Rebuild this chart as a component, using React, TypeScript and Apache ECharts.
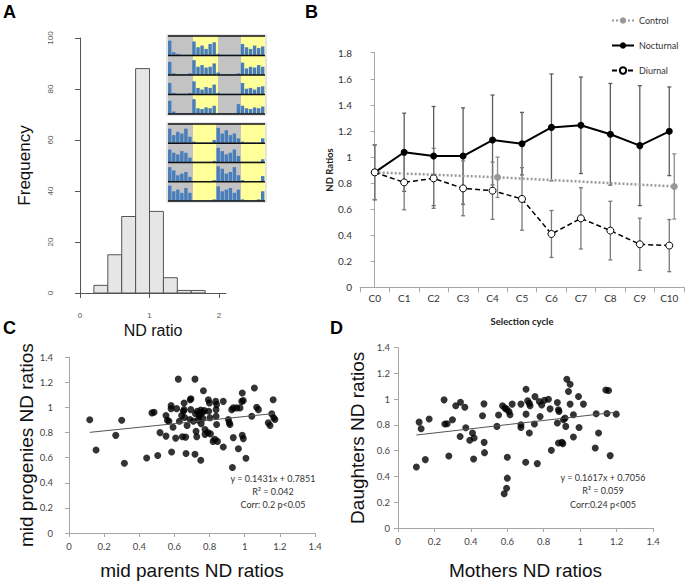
import React, { useEffect, useRef } from "react";
import * as echarts from "echarts";

// ---------- Panel A: histogram ----------
const histBinStart = [0.2, 0.4, 0.6, 0.8, 1.0, 1.2, 1.4, 1.6];
const histBinWidth = 0.2;
const histFrequency = [3, 15, 30, 88, 32, 6, 1, 1];

// inset actograms (relative activity per bin, 24 bins per row)
const insetTopActivity = [
  [0.9, 0.2, 0.1, 0.05, 0.05, 0.05, 0.85, 0.5, 0.6, 0.4, 0.7, 0.8, 0.1, 0.05, 0.05, 0.05, 0.05, 0.05, 0.7, 0.5, 0.4, 0.6, 0.45, 0.55],
  [0.8, 0.1, 0.05, 0.05, 0.05, 0.1, 0.9, 0.5, 0.6, 0.45, 0.5, 0.7, 0.15, 0.05, 0.05, 0.05, 0.05, 0.1, 0.75, 0.4, 0.5, 0.45, 0.6, 0.5],
  [0.7, 0.1, 0.05, 0.05, 0.05, 0.1, 0.8, 0.4, 0.3, 0.45, 0.4, 0.6, 0.1, 0.05, 0.05, 0.05, 0.05, 0.05, 0.7, 0.35, 0.4, 0.3, 0.45, 0.5],
  [0.8, 0.15, 0.05, 0.05, 0.05, 0.05, 0.9, 0.35, 0.3, 0.4, 0.35, 0.5, 0.05, 0.05, 0.05, 0.05, 0.05, 0.6, 0.5, 0.35, 0.3, 0.4, 0.35, 0.45],
];
const insetBottomActivity = [
  [0.9, 0.5, 0.7, 0.6, 0.9, 0.4, 0.1, 0.05, 0.05, 0.05, 0.05, 0.2, 0.95, 0.6, 0.8, 0.5, 0.6, 0.3, 0.1, 0.05, 0.05, 0.05, 0.05, 0.3],
  [0.8, 0.6, 0.5, 0.7, 0.6, 0.3, 0.05, 0.05, 0.05, 0.05, 0.05, 0.1, 0.9, 0.7, 0.5, 0.6, 0.8, 0.4, 0.05, 0.05, 0.05, 0.05, 0.05, 0.2],
  [0.9, 0.7, 0.4, 0.5, 0.6, 0.3, 0.05, 0.05, 0.05, 0.05, 0.05, 0.1, 0.95, 0.8, 0.5, 0.6, 0.9, 0.4, 0.1, 0.05, 0.05, 0.05, 0.05, 0.35],
  [0.95, 0.6, 0.7, 0.5, 0.8, 0.5, 0.05, 0.05, 0.05, 0.05, 0.05, 0.1, 0.9, 0.6, 0.7, 0.8, 0.5, 0.7, 0.1, 0.05, 0.05, 0.05, 0.1, 0.6],
];
const insetPhases = ["dark", "light", "dark", "light"];

// ---------- Panel B: selection cycles ----------
const cycles = ["C0", "C1", "C2", "C3", "C4", "C5", "C6", "C7", "C8", "C9", "C10"];
const nocturnalMean = [0.882, 1.036, 1.007, 1.007, 1.13, 1.102, 1.227, 1.243, 1.174, 1.087, 1.197];
const nocturnalErr = [0.21, 0.3, 0.38, 0.37, 0.345, 0.24, 0.41, 0.37, 0.39, 0.46, 0.34];
const diurnalMean = [0.882, 0.805, 0.836, 0.759, 0.741, 0.678, 0.409, 0.529, 0.435, 0.33, 0.32];
const diurnalErr = [0.21, 0.21, 0.23, 0.21, 0.22, 0.24, 0.18, 0.235, 0.225, 0.2, 0.2];
const controlCycle = [0, 4.17, 10.17];
const controlMean = [0.882, 0.844, 0.774];
const controlErr = [0, 0.155, 0.25];

// ---------- Panel C: mid parents vs mid progenies ----------
const scatterC = [
  [0.118, 0.902], [0.154, 0.661], [0.266, 0.778], [0.3, 0.899], [0.315, 0.556],
  [0.442, 0.598], [0.472, 0.957], [0.484, 0.962], [0.505, 0.617], [0.518, 0.8],
  [0.552, 0.936], [0.552, 0.772], [0.56, 0.899], [0.569, 0.891], [0.581, 1.015],
  [0.581, 0.991], [0.584, 0.646], [0.592, 0.843], [0.607, 0.756], [0.613, 0.991],
  [0.622, 1.226], [0.628, 0.891], [0.641, 0.936], [0.645, 0.767], [0.651, 0.97],
  [0.655, 0.983], [0.655, 1.036], [0.658, 0.92], [0.664, 0.764], [0.666, 0.633],
  [0.672, 0.857], [0.689, 0.904], [0.69, 1.062], [0.694, 1.07], [0.693, 0.983],
  [0.717, 1.226], [0.708, 0.891], [0.723, 0.81], [0.727, 0.767], [0.717, 0.627],
  [0.75, 0.58], [0.765, 1.134], [0.72, 0.95], [0.73, 0.97], [0.74, 0.93],
  [0.75, 0.98], [0.76, 0.96], [0.735, 0.9], [0.745, 0.945], [0.762, 0.912],
  [0.77, 0.975], [0.752, 0.87], [0.793, 1.062], [0.799, 1.036], [0.795, 0.97],
  [0.802, 0.918], [0.774, 0.825], [0.774, 0.786], [0.79, 0.8], [0.805, 0.79],
  [0.82, 0.73], [0.83, 0.746], [0.845, 0.73], [0.835, 1.049], [0.84, 1.023],
  [0.837, 0.983], [0.837, 0.93], [0.84, 0.865], [0.878, 1.049], [0.878, 0.685],
  [0.907, 0.904], [0.912, 0.878], [0.916, 0.865], [0.926, 0.983], [0.935, 0.997],
  [0.93, 0.522], [0.935, 0.76], [0.954, 0.997], [0.973, 0.997], [0.964, 0.672],
  [0.983, 1.049], [0.992, 1.055], [0.986, 1.115], [0.986, 0.778], [0.992, 0.752],
  [1.007, 0.596], [1.055, 1.155], [1.04, 0.93], [1.068, 1.002], [1.078, 0.983],
  [1.134, 0.878], [1.144, 0.857], [1.154, 0.949], [1.165, 0.918], [1.172, 0.904],
  [1.162, 1.062],
];
const slopeC = 0.1431;
const interceptC = 0.7851;
const annotationC = ["y = 0.1431x + 0.7851", "R\u00b2 = 0.042", "Corr: 0.2 p<0.05"];

// ---------- Panel D: mothers vs daughters ----------
const scatterD = [
  [0.101, 0.474], [0.116, 0.822], [0.127, 0.771], [0.15, 0.531], [0.171, 0.846],
  [0.253, 0.995], [0.257, 0.807], [0.27, 0.81], [0.279, 0.559], [0.299, 0.84],
  [0.317, 0.949], [0.343, 0.977], [0.341, 0.711], [0.367, 0.938], [0.372, 0.779],
  [0.394, 0.681], [0.409, 0.737], [0.418, 0.699], [0.415, 0.536], [0.464, 0.871],
  [0.472, 0.964], [0.473, 0.665], [0.475, 0.585], [0.543, 0.789], [0.552, 0.877],
  [0.574, 0.949], [0.587, 0.931], [0.596, 0.923], [0.583, 0.266], [0.596, 0.309],
  [0.6, 0.387], [0.6, 0.549], [0.609, 0.905], [0.615, 0.879], [0.627, 0.962],
  [0.675, 0.962], [0.675, 0.802], [0.675, 0.781], [0.703, 1.078], [0.703, 0.884],
  [0.701, 0.51], [0.712, 0.987], [0.721, 0.969], [0.725, 0.949], [0.721, 0.737],
  [0.749, 0.807], [0.752, 1.02], [0.765, 0.5], [0.776, 0.982], [0.789, 0.956],
  [0.78, 0.866], [0.804, 0.992], [0.826, 1.0], [0.835, 0.925], [0.842, 0.603],
  [0.875, 0.975], [0.875, 0.815], [0.881, 0.918], [0.884, 0.905], [0.881, 0.66],
  [0.9, 0.665], [0.905, 0.655], [0.908, 0.84], [0.917, 0.853], [0.921, 0.789],
  [0.927, 1.155], [0.936, 1.06], [0.945, 1.116], [0.945, 0.962], [0.963, 0.879],
  [0.963, 0.706], [0.991, 1.021], [0.994, 0.781], [1.018, 0.962], [1.088, 0.887],
  [1.083, 0.621], [1.101, 0.737], [1.141, 1.072], [1.156, 1.067], [1.147, 0.889],
  [1.165, 0.562], [1.198, 0.884],
];
const slopeD = 0.1617;
const interceptD = 0.7056;
const annotationD = ["y = 0.1617x + 0.7056", "R\u00b2 = 0.059", "Corr:0.24 p<005"];

const ARIAL = "'Liberation Sans', Arial, sans-serif";
const EXCEL = "Lato, 'Liberation Sans', sans-serif";

function trend(points: number[][], slope: number, intercept: number) {
  const xs = points.map((p) => p[0]);
  const lo = Math.min(...xs);
  const hi = Math.max(...xs);
  return [
    [lo, slope * lo + intercept],
    [hi, slope * hi + intercept],
  ];
}

function errRender(color: string) {
  return (_params: any, api: any) => {
    const x = api.value(0);
    const y = api.value(1);
    const e = api.value(2);
    if (!e) return null;
    const top = api.coord([x, y + e]);
    const bot = api.coord([x, y - e]);
    const cap = 2;
    const style = { stroke: color, lineWidth: 1.3 };
    return {
      type: "group",
      children: [
        { type: "line", shape: { x1: top[0], y1: top[1], x2: bot[0], y2: bot[1] }, style },
        { type: "line", shape: { x1: top[0] - cap, y1: top[1], x2: top[0] + cap, y2: top[1] }, style },
        { type: "line", shape: { x1: bot[0] - cap, y1: bot[1], x2: bot[0] + cap, y2: bot[1] }, style },
      ],
    };
  };
}

function buildInset(x0: number, y0: number, w: number, rowH: number, edges: number[], activity: number[][]) {
  const children: any[] = [];
  const rows = activity.length;
  children.push({
    type: "rect",
    shape: { x: x0 - 1, y: y0 - 1, width: w + 2, height: rows * rowH + 2 },
    style: { fill: "#fff", stroke: "#c8c8c8", lineWidth: 1 },
  });
  activity.forEach((row, r) => {
    const top = y0 + r * rowH;
    for (let c = 0; c < insetPhases.length; c++) {
      children.push({
        type: "rect",
        shape: { x: x0 + edges[c] * w, y: top, width: (edges[c + 1] - edges[c]) * w, height: rowH },
        style: { fill: insetPhases[c] === "dark" ? "#c3c3c3" : "#ffff99" },
      });
    }
    const binW = w / row.length;
    row.forEach((v, b) => {
      const h = v * (rowH - 3);
      children.push({
        type: "rect",
        shape: { x: x0 + b * binW, y: top + rowH - h, width: binW * 0.85, height: h },
        style: { fill: "#4a7ebb" },
      });
    });
  });
  for (let r = 0; r <= rows; r++) {
    children.push({
      type: "line",
      shape: { x1: x0, y1: y0 + r * rowH, x2: x0 + w, y2: y0 + r * rowH },
      style: { stroke: "#111", lineWidth: 1.5 },
    });
  }
  return { type: "group", silent: true, children };
}

const excelAxisLine = { show: true, lineStyle: { color: "#a6a6a6", width: 1 } };
const excelTick = { show: true, length: 4, lineStyle: { color: "#a6a6a6" } };

export default function App() {
  const ref = useRef<HTMLDivElement>(null);
  useEffect(() => {
    const chart = echarts.init(ref.current!, null, { renderer: "svg" });
    const option: any = {
      animation: false,
      backgroundColor: "#fff",
      legend: {
        data: ["Control", "Nocturnal", "Diurnal"],
        orient: "vertical",
        left: 606,
        top: 11,
        itemWidth: 22,
        itemHeight: 8,
        itemGap: 16,
        textStyle: { fontSize: 9, color: "#333", fontFamily: EXCEL },
      },
      grid: [
        { left: 80, top: 38, width: 146, height: 255 },
        { left: 360, top: 52.7, width: 324, height: 234.6 },
        { left: 69, top: 357.3, width: 246, height: 177 },
        { left: 398, top: 347.7, width: 255, height: 181 },
      ],
      xAxis: [
        {
          gridIndex: 0,
          type: "value",
          min: 0,
          max: 2.1,
          interval: 1,
          offset: 11,
          splitLine: { show: false },
          axisLine: { show: true, lineStyle: { color: "#555" } },
          axisTick: { show: true, length: 5, lineStyle: { color: "#555" } },
          axisLabel: { fontSize: 8, color: "#555", margin: 7, fontFamily: ARIAL, showMaxLabel: false },
          name: "ND ratio",
          nameLocation: "middle",
          nameGap: 18,
          nameTextStyle: { fontSize: 16, color: "#111", fontFamily: ARIAL },
        },
        {
          gridIndex: 1,
          type: "category",
          data: cycles,
          boundaryGap: true,
          axisLine: excelAxisLine,
          axisTick: { show: true, length: 5, alignWithLabel: false, lineStyle: { color: "#a6a6a6" } },
          axisLabel: { fontSize: 10, color: "#333", margin: 6, interval: 0, fontFamily: EXCEL },
          name: "Selection cycle",
          nameLocation: "middle",
          nameGap: 29,
          nameTextStyle: { fontSize: 9.5, fontWeight: "bold", color: "#222", fontFamily: EXCEL },
        },
        { gridIndex: 1, type: "value", min: -0.5, max: 10.5, show: false },
        {
          gridIndex: 2,
          type: "value",
          min: 0,
          max: 1.4,
          interval: 0.2,
          splitLine: { show: false },
          axisLine: excelAxisLine,
          axisTick: excelTick,
          axisLabel: { fontSize: 9.5, color: "#444", margin: 8, fontFamily: EXCEL },
          name: "mid parents ND ratios",
          nameLocation: "middle",
          nameGap: 28,
          nameTextStyle: { fontSize: 19, color: "#111", fontFamily: ARIAL },
        },
        {
          gridIndex: 3,
          type: "value",
          min: 0,
          max: 1.4,
          interval: 0.2,
          splitLine: { show: false },
          axisLine: excelAxisLine,
          axisTick: excelTick,
          axisLabel: { fontSize: 9.5, color: "#444", margin: 8, fontFamily: EXCEL },
          name: "Mothers ND ratios",
          nameLocation: "middle",
          nameGap: 33,
          nameTextStyle: { fontSize: 19, color: "#111", fontFamily: ARIAL },
        },
      ],
      yAxis: [
        {
          gridIndex: 0,
          type: "value",
          min: 0,
          max: 100,
          interval: 20,
          offset: 12,
          splitLine: { show: false },
          axisLine: { show: true, lineStyle: { color: "#555" } },
          axisTick: { show: true, length: 5, lineStyle: { color: "#555" } },
          axisLabel: { fontSize: 8, color: "#555", margin: 14, rotate: 90, fontFamily: ARIAL },
          name: "Frequency",
          nameLocation: "middle",
          nameGap: 35,
          nameTextStyle: { fontSize: 17, color: "#111", fontFamily: ARIAL },
        },
        {
          gridIndex: 1,
          type: "value",
          min: 0,
          max: 1.8,
          interval: 0.2,
          splitLine: { show: false },
          axisLine: excelAxisLine,
          axisTick: excelTick,
          axisLabel: { fontSize: 10, color: "#333", margin: 8, fontFamily: EXCEL },
          name: "ND Ratios",
          nameLocation: "middle",
          nameGap: 26,
          nameTextStyle: { fontSize: 9.5, fontWeight: "bold", color: "#222", fontFamily: EXCEL },
        },
        {
          gridIndex: 2,
          type: "value",
          min: 0,
          max: 1.4,
          interval: 0.2,
          splitLine: { show: false },
          axisLine: excelAxisLine,
          axisTick: excelTick,
          axisLabel: { fontSize: 9.5, color: "#444", margin: 16, fontFamily: EXCEL },
          name: "mid progenies ND ratios",
          nameLocation: "middle",
          nameGap: 23,
          nameTextStyle: { fontSize: 19, color: "#111", fontFamily: ARIAL },
        },
        {
          gridIndex: 3,
          type: "value",
          min: 0,
          max: 1.4,
          interval: 0.2,
          splitLine: { show: false },
          axisLine: excelAxisLine,
          axisTick: excelTick,
          axisLabel: { fontSize: 9.5, color: "#444", margin: 8, fontFamily: EXCEL },
          name: "Daughters ND ratios",
          nameLocation: "middle",
          nameGap: 31,
          nameTextStyle: { fontSize: 19, color: "#111", fontFamily: ARIAL },
        },
      ],
      series: [
        {
          type: "custom",
          xAxisIndex: 0,
          yAxisIndex: 0,
          encode: { x: 0, y: 1 },
          data: histBinStart.map((s, i) => [s, histFrequency[i]]),
          renderItem: (_p: any, api: any) => {
            const x0 = api.value(0);
            const h = api.value(1);
            const a = api.coord([x0, h]);
            const b = api.coord([x0 + histBinWidth, 0]);
            return {
              type: "rect",
              shape: { x: a[0], y: a[1], width: b[0] - a[0], height: b[1] - a[1] },
              style: { fill: "#e6e6e6", stroke: "#555", lineWidth: 1 },
            };
          },
        },
        {
          type: "custom",
          xAxisIndex: 2,
          yAxisIndex: 1,
          encode: { x: 0, y: 1 },
          z: 1,
          data: nocturnalMean.map((m, i) => [i, m, nocturnalErr[i]]),
          renderItem: errRender("#5c5c5c"),
        },
        {
          type: "custom",
          xAxisIndex: 2,
          yAxisIndex: 1,
          encode: { x: 0, y: 1 },
          z: 1,
          data: diurnalMean.map((m, i) => [i, m, diurnalErr[i]]),
          renderItem: errRender("#7a7a7a"),
        },
        {
          type: "custom",
          xAxisIndex: 2,
          yAxisIndex: 1,
          encode: { x: 0, y: 1 },
          z: 1,
          data: controlMean.map((m, i) => [controlCycle[i], m, controlErr[i]]),
          renderItem: errRender("#8c8c8c"),
        },
        {
          type: "line",
          name: "Control",
          xAxisIndex: 2,
          yAxisIndex: 1,
          z: 2,
          data: controlMean.map((m, i) => [controlCycle[i], m]),
          symbol: "circle",
          symbolSize: 7,
          itemStyle: { color: "#999" },
          lineStyle: { color: "#999", width: 2.5, type: [2, 2] },
        },
        {
          type: "line",
          name: "Nocturnal",
          xAxisIndex: 2,
          yAxisIndex: 1,
          z: 3,
          data: nocturnalMean.map((m, i) => [i, m]),
          symbol: "circle",
          symbolSize: 7,
          itemStyle: { color: "#000" },
          lineStyle: { color: "#000", width: 2 },
        },
        {
          type: "line",
          name: "Diurnal",
          xAxisIndex: 2,
          yAxisIndex: 1,
          z: 4,
          data: diurnalMean.map((m, i) => [i, m]),
          symbol: "circle",
          symbolSize: 7,
          itemStyle: { color: "#fff", borderColor: "#000", borderWidth: 1 },
          lineStyle: { color: "#000", width: 1.5, type: [5, 3] },
        },
        {
          type: "scatter",
          xAxisIndex: 3,
          yAxisIndex: 2,
          data: scatterC,
          symbolSize: 7,
          itemStyle: { color: "#000" },
        },
        {
          type: "line",
          xAxisIndex: 3,
          yAxisIndex: 2,
          data: trend(scatterC, slopeC, interceptC),
          showSymbol: false,
          symbol: "none",
          lineStyle: { color: "#555", width: 1 },
        },
        {
          type: "scatter",
          xAxisIndex: 4,
          yAxisIndex: 3,
          data: scatterD,
          symbolSize: 7,
          itemStyle: { color: "#000" },
        },
        {
          type: "line",
          xAxisIndex: 4,
          yAxisIndex: 3,
          data: trend(scatterD, slopeD, interceptD),
          showSymbol: false,
          symbol: "none",
          lineStyle: { color: "#555", width: 1 },
        },
      ],
      graphic: [
        buildInset(168, 36, 97, 19.5, [0, 25 / 97, 50 / 97, 73 / 97, 1], insetTopActivity),
        buildInset(168, 124, 97, 19.25, [0, 25 / 97, 48 / 97, 73 / 97, 1], insetBottomActivity),
        { type: "text", left: 3, top: 3, style: { text: "A", fontSize: 18, fontWeight: "bold", fontFamily: ARIAL, fill: "#000" } },
        { type: "text", left: 305, top: 3, style: { text: "B", fontSize: 18, fontWeight: "bold", fontFamily: ARIAL, fill: "#000" } },
        { type: "text", left: 3, top: 319, style: { text: "C", fontSize: 18, fontWeight: "bold", fontFamily: ARIAL, fill: "#000" } },
        { type: "text", left: 330, top: 319, style: { text: "D", fontSize: 18, fontWeight: "bold", fontFamily: ARIAL, fill: "#000" } },
        ...annotationC.map((t, i) => ({
          type: "text",
          x: 273,
          y: 478 + i * 13,
          style: { text: t, fontSize: 9, fontFamily: EXCEL, fill: "#333", align: "center", verticalAlign: "middle" },
        })),
        ...annotationD.map((t, i) => ({
          type: "text",
          x: 603,
          y: 477 + i * 13.5,
          style: { text: t, fontSize: 9, fontFamily: EXCEL, fill: "#333", align: "center", verticalAlign: "middle" },
        })),
      ],
    };
    chart.setOption(option);
    return () => chart.dispose();
  }, []);
  return (
    <div
      ref={ref}
      style={{ position: "fixed", left: 0, top: 0, width: 685, height: 581, background: "#fff" }}
    />
  );
}
